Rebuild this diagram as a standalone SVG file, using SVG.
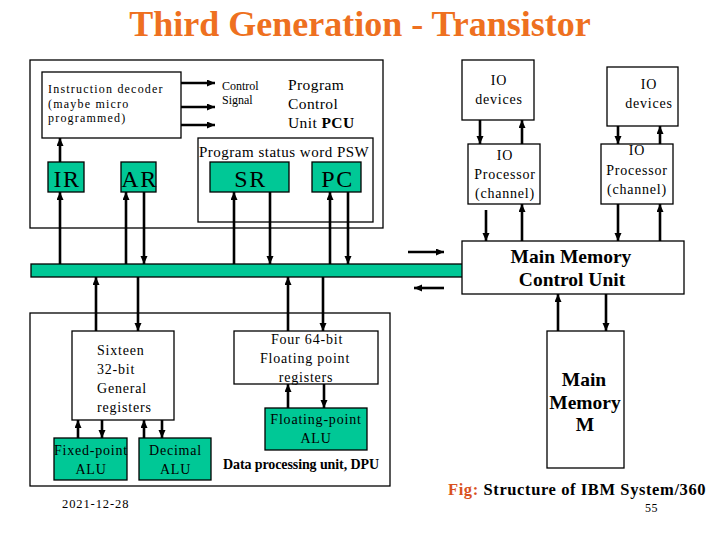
<svg xmlns="http://www.w3.org/2000/svg" width="720" height="540" viewBox="0 0 720 540" font-family="'Liberation Serif', 'DejaVu Serif', serif">
<style>
text{font-family:'Liberation Serif','DejaVu Serif',serif;fill:#000}
.n{font-size:14px;letter-spacing:0.8px}
.r{font-size:24px;letter-spacing:1.5px}
.k{font-size:19.5px;font-weight:bold}
.b{fill:#fff;stroke:#000;stroke-width:1.3}
.g{fill:#00c896;stroke:#000;stroke-width:1.3}
.c line{stroke:#000;stroke-width:2.6}
.a{marker-end:url(#ah)}
</style>
<defs>
<marker id="ah" markerUnits="userSpaceOnUse" markerWidth="9" markerHeight="8" refX="8" refY="3.5" orient="auto">
<path d="M0,0 L8,3.5 L0,7 z" fill="#000"/>
</marker>
</defs>
<rect width="720" height="540" fill="#fff"/>
<text x="360" y="36" text-anchor="middle" font-size="36" font-weight="bold" style="fill:#ee7020">Third Generation - Transistor</text>

<g id="pcu">
<rect class="b" x="30" y="60" width="353" height="168"/>
<text x="288" y="90" font-size="15.5" letter-spacing="0.4">Program</text>
<text x="288" y="109" font-size="15.5" letter-spacing="0.4">Control</text>
<text x="288" y="128" font-size="15.5" letter-spacing="0.4">Unit <tspan font-weight="bold">PCU</tspan></text>
<text x="222" y="90" font-size="12">Control</text>
<text x="222" y="104" font-size="12">Signal</text>
</g>
<g id="decoder">
<rect class="b" x="42" y="72" width="139" height="66"/>
<text x="48" y="93" font-size="12" letter-spacing="1.2">Instruction decoder</text>
<text x="48" y="108" font-size="12" letter-spacing="1.2">(maybe micro</text>
<text x="48" y="122" font-size="12" letter-spacing="1.2">programmed)</text>
</g>
<g id="psw">
<rect class="b" x="198" y="138" width="175" height="84"/>
<text x="199" y="157" font-size="15" letter-spacing="0.5">Program status word PSW</text>
</g>
<g id="ir"><rect class="g" x="48" y="162" width="36" height="30"/><text class="r" x="67" y="187" text-anchor="middle">IR</text></g>
<g id="ar"><rect class="g" x="121" y="162" width="35" height="30"/><text class="r" x="139.5" y="187" text-anchor="middle">AR</text></g>
<g id="sr"><rect class="g" x="210" y="162" width="79" height="30"/><text class="r" x="250.5" y="187" text-anchor="middle">SR</text></g>
<g id="pc"><rect class="g" x="312" y="162" width="49" height="30"/><text class="r" x="337.5" y="187" text-anchor="middle">PC</text></g>

<g id="bus"><rect class="g" x="31" y="264" width="432" height="13"/></g>

<g id="io1">
<rect class="b" x="462" y="60" width="72" height="60"/>
<text class="n" x="499" y="85" text-anchor="middle">IO</text>
<text class="n" x="499" y="104" text-anchor="middle">devices</text>
</g>
<g id="iop1">
<rect class="b" x="468" y="144" width="72" height="60"/>
<text class="n" x="505" y="160" text-anchor="middle">IO</text>
<text class="n" x="505" y="179" text-anchor="middle">Processor</text>
<text class="n" x="505" y="198" text-anchor="middle">(channel)</text>
</g>
<g id="io2">
<rect class="b" x="607" y="67" width="71" height="59"/>
<text class="n" x="649" y="89" text-anchor="middle">IO</text>
<text class="n" x="649" y="108" text-anchor="middle">devices</text>
</g>
<g id="iop2">
<rect class="b" x="601" y="144" width="72" height="60"/>
<text class="n" x="637" y="155" text-anchor="middle">IO</text>
<text class="n" x="637" y="175" text-anchor="middle">Processor</text>
<text class="n" x="637" y="194" text-anchor="middle">(channel)</text>
</g>
<g id="mmcu">
<rect class="b" x="462" y="241" width="222" height="53"/>
<text class="k" x="571" y="263" text-anchor="middle">Main Memory</text>
<text class="k" x="572" y="286" text-anchor="middle">Control Unit</text>
</g>
<g id="mm">
<rect class="b" x="547" y="331" width="77" height="137"/>
<text class="k" x="584" y="386" text-anchor="middle">Main</text>
<text class="k" x="585" y="409" text-anchor="middle">Memory</text>
<text class="k" x="585" y="431" text-anchor="middle">M</text>
</g>

<g id="dpu">
<rect class="b" x="30" y="313" width="360" height="173"/>
<text x="223" y="469" font-size="14" font-weight="bold" letter-spacing="-0.1">Data processing unit, DPU</text>
</g>
<g id="gpr">
<rect class="b" x="72" y="331" width="102" height="89"/>
<text class="n" x="97" y="355">Sixteen</text>
<text class="n" x="97" y="374">32-bit</text>
<text class="n" x="97" y="393">General</text>
<text class="n" x="97" y="412">registers</text>
</g>
<g id="fxalu">
<rect class="g" x="54" y="438" width="73" height="42"/>
<text class="n" x="91" y="455" text-anchor="middle" letter-spacing="0.5">Fixed-point</text>
<text class="n" x="91" y="474" text-anchor="middle">ALU</text>
</g>
<g id="decalu">
<rect class="g" x="139" y="438" width="72" height="42"/>
<text class="n" x="175.5" y="455" text-anchor="middle">Decimal</text>
<text class="n" x="175.5" y="474" text-anchor="middle">ALU</text>
</g>
<g id="fpr">
<rect class="b" x="234" y="331" width="144" height="53"/>
<text class="n" x="307" y="344" text-anchor="middle" letter-spacing="1.1">Four 64-bit</text>
<text class="n" x="305" y="363" text-anchor="middle">Floating point</text>
<text class="n" x="306" y="382" text-anchor="middle">registers</text>
</g>
<g id="fpalu">
<rect class="g" x="265" y="408" width="102" height="42"/>
<text class="n" x="316" y="424" text-anchor="middle" letter-spacing="1">Floating-point</text>
<text class="n" x="316" y="443" text-anchor="middle">ALU</text>
</g>

<g class="c" id="connectors">
<line class="a" x1="181" y1="83" x2="215" y2="83"/>
<line class="a" x1="181" y1="107" x2="215" y2="107"/>
<line class="a" x1="181" y1="125" x2="215" y2="125"/>
<line class="a" x1="60" y1="162" x2="60" y2="138"/>
<line class="a" x1="60" y1="264" x2="60" y2="192"/>
<line class="a" x1="126" y1="264" x2="126" y2="192"/>
<line class="a" x1="144" y1="192" x2="144" y2="264"/>
<line class="a" x1="234" y1="264" x2="234" y2="192"/>
<line class="a" x1="270" y1="192" x2="270" y2="264"/>
<line class="a" x1="330" y1="264" x2="330" y2="192"/>
<line class="a" x1="348" y1="192" x2="348" y2="264"/>
<line class="a" x1="96" y1="331" x2="96" y2="277"/>
<line class="a" x1="138" y1="277" x2="138" y2="331"/>
<line class="a" x1="288" y1="331" x2="288" y2="277"/>
<line class="a" x1="323" y1="277" x2="323" y2="331"/>
<line class="a" x1="78" y1="438" x2="78" y2="420"/>
<line class="a" x1="102" y1="420" x2="102" y2="438"/>
<line class="a" x1="144" y1="438" x2="144" y2="420"/>
<line class="a" x1="162" y1="420" x2="162" y2="438"/>
<line class="a" x1="288" y1="408" x2="288" y2="384"/>
<line class="a" x1="324" y1="384" x2="324" y2="408"/>
<line class="a" x1="480" y1="120" x2="480" y2="144"/>
<line class="a" x1="522" y1="144" x2="522" y2="120"/>
<line class="a" x1="486" y1="210" x2="486" y2="241"/>
<line class="a" x1="522" y1="241" x2="522" y2="204"/>
<line class="a" x1="618" y1="126" x2="618" y2="144"/>
<line class="a" x1="660" y1="144" x2="660" y2="126"/>
<line class="a" x1="618" y1="204" x2="618" y2="241"/>
<line class="a" x1="660" y1="241" x2="660" y2="204"/>
<line class="a" x1="558" y1="331" x2="558" y2="294"/>
<line class="a" x1="606" y1="294" x2="606" y2="331"/>
<line class="a" x1="408" y1="252" x2="444" y2="252"/>
<line class="a" x1="444" y1="288" x2="414" y2="288"/>
</g>

<text x="448" y="495" font-size="16.5" font-weight="bold" letter-spacing="0.6"><tspan style="fill:#d9521e">Fig:</tspan> Structure of IBM System/360</text>
<text x="62" y="508" font-size="12.5" letter-spacing="0.9">2021-12-28</text>
<text x="645" y="512" font-size="12" letter-spacing="0.5">55</text>
</svg>
